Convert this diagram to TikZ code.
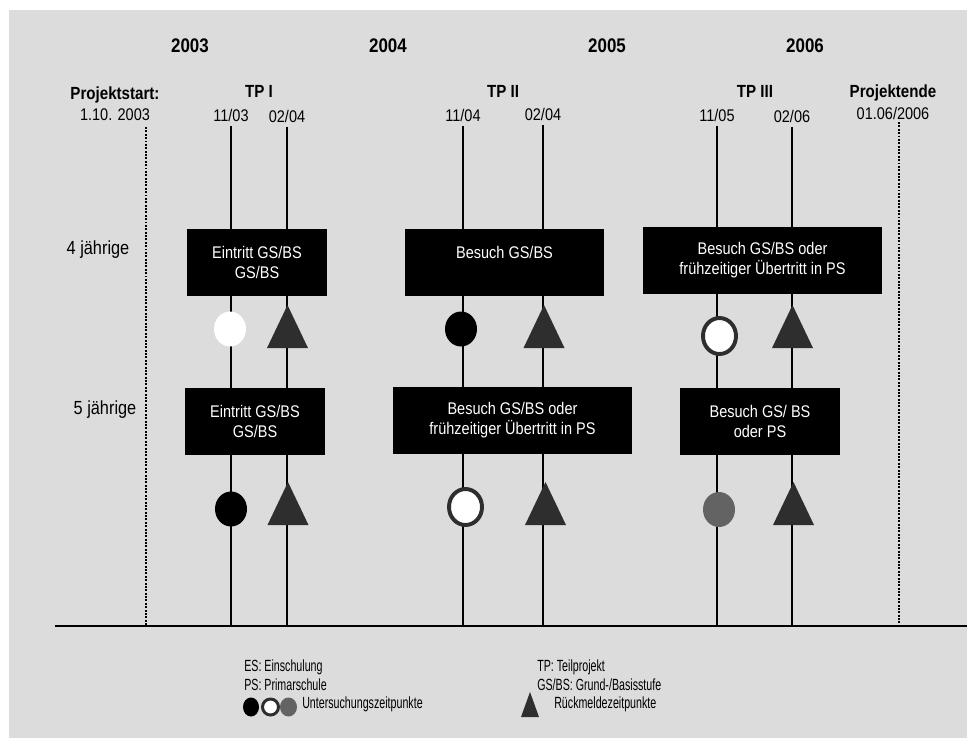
\documentclass[tikz,border=0pt]{standalone}
\usepackage{fontspec}
\setmainfont{Liberation Sans}[FakeStretch=0.86]
\newfontfamily\legfont{Liberation Sans}[FakeStretch=0.66]
\usepackage{tikz}
\usetikzlibrary{shapes.geometric}
\definecolor{bg}{HTML}{DCDCDC}
\definecolor{dgray}{HTML}{2E2E2E}
\definecolor{mgray}{HTML}{636363}

\begin{document}
\begin{tikzpicture}[x=0.025cm,y=-0.025cm,
  year/.style={font=\fontsize{14}{16}\selectfont\bfseries},
  head/.style={font=\fontsize{12.5}{14}\selectfont\bfseries},
  lbl/.style={font=\fontsize{12}{14}\selectfont},
  age/.style={font=\fontsize{13.5}{16}\selectfont},
  blk/.style={fill=black,text=white,align=center,inner sep=0pt,minimum height=1.675cm,font=\fontsize{12}{14.2}\selectfont},
  leg/.style={anchor=base west,inner sep=0pt,font=\legfont\fontsize{11.5}{13}\selectfont},
  tline/.style={line width=1.4pt},
  endline/.style={line width=1.4pt,densely dotted},
  dot/.style={ellipse,inner sep=0pt,minimum width=0.8cm,minimum height=0.875cm},
  ring/.style={dot,fill=white,draw=dgray,line width=2.8pt,minimum width=0.825cm,minimum height=0.9cm},
  tri/.style={fill=dgray}]

  \useasboundingbox (0,0) rectangle (967,738);
  \fill[white] (0,0) rectangle (967,738);
  \fill[bg] (9,10) rectangle (967,738);

  \node[year] (y3) at (190,46) {2003};
  \node[year] (y4) at (388,46) {2004};
  \node[year] (y5) at (607,46) {2005};
  \node[year] (y6) at (805,46) {2006};

  \node[head] (ps) at (115,95) {Projektstart:};
  \node[lbl,below of=ps,node distance=0.5cm] (ps1) {1.10. 2003};
  \node[head] (pe) at (893,93) {Projektende};
  \node[lbl,below of=pe,node distance=0.5cm] (pe1) {01.06/2006};

  \node[head] (t1) at (259,91) {TP I};
  \node[head] (t2) at (503,91) {TP II};
  \node[head] (t3) at (755,91) {TP III};

  \node[lbl] (d1) at (231,115) {11/03};
  \node[lbl] (d2) at (287,116) {02/04};
  \node[lbl] (d3) at (463,115) {11/04};
  \node[lbl] (d4) at (543,114) {02/04};
  \node[lbl] (d5) at (717,115) {11/05};
  \node[lbl] (d6) at (792,116) {02/06};

  \coordinate (bl) at (55,626);
  \coordinate (br) at (967,626);
  \coordinate (s0) at (146,127);
  \coordinate (e0) at (899,122);

  \draw[tline] (bl) -- (br);
  \foreach \d in {d1,d2,d3,d4,d5,d6}
    \draw[tline] (\d) -- (\d |- bl);
  \draw[endline] (s0) -- (s0 |- bl);
  \draw[endline] (e0) -- (e0 |- bl);

  \node[age] (r4) at (98,250) {4 jährige};
  \node[age] (r5) at (105,410) {5 jährige};

  \node[blk,minimum width=3.5cm] (a1) at (257,262.5) {Eintritt GS/BS\\GS/BS};
  \node[blk,minimum width=4.975cm] (b1) at (504.5,262.5) {Besuch GS/BS\\~};
  \node[blk,minimum width=5.975cm] (c1) at (762.5,260.5) {Besuch GS/BS oder\\frühzeitiger Übertritt in PS};

  \node[blk,minimum width=3.5cm] (a2) at (255,421.5) {Eintritt GS/BS\\GS/BS};
  \node[blk,minimum width=5.975cm] (b2) at (512.5,420.5) {Besuch GS/BS oder\\frühzeitiger Übertritt in PS};
  \node[blk,minimum width=4cm] (c2) at (760,421.5) {Besuch GS/ BS\\oder PS};

  \node[dot,fill=white] (m1) at (230,329) {};
  \node[dot,fill=black] (m2) at (461,329) {};
  \node[ring] (m3) at (719.5,336) {};
  \node[dot,fill=black] (m4) at (231,509) {};
  \node[ring] (m5) at (465.5,507) {};
  \node[dot,fill=mgray] (m6) at (719,509.5) {};

  \foreach \x/\y in {287.5/305,544/305,792.5/305,288/482,545.5/482,793.5/482}
    \fill[tri] (\x,\y) -- ++(20.5,43) -- ++(-41,0) -- cycle;

  \node[leg] (es) at (244,671) {ES: Einschulung};
  \node[leg] (pl) at (244,690) {PS: Primarschule};
  \node[dot,fill=black,minimum width=0.4cm,minimum height=0.475cm] (k1) at (251,707) {};
  \node[dot,fill=mgray,minimum width=0.425cm,minimum height=0.475cm] (k3) at (288.5,707) {};
  \node[ring,line width=2.1pt,minimum width=0.4cm,minimum height=0.4cm] (k2) at (270.5,707) {};
  \node[leg] (us) at (302,708) {Untersuchungszeitpunkte};

  \node[leg] (tp) at (537,671) {TP: Teilprojekt};
  \node[leg] (gs) at (537,690) {GS/BS: Grund-/Basisstufe};
  \fill[tri] (530,692) -- ++(9,25) -- ++(-18,0) -- cycle;
  \node[leg] (rm) at (554,708) {Rückmeldezeitpunkte};

\end{tikzpicture}
\end{document}
